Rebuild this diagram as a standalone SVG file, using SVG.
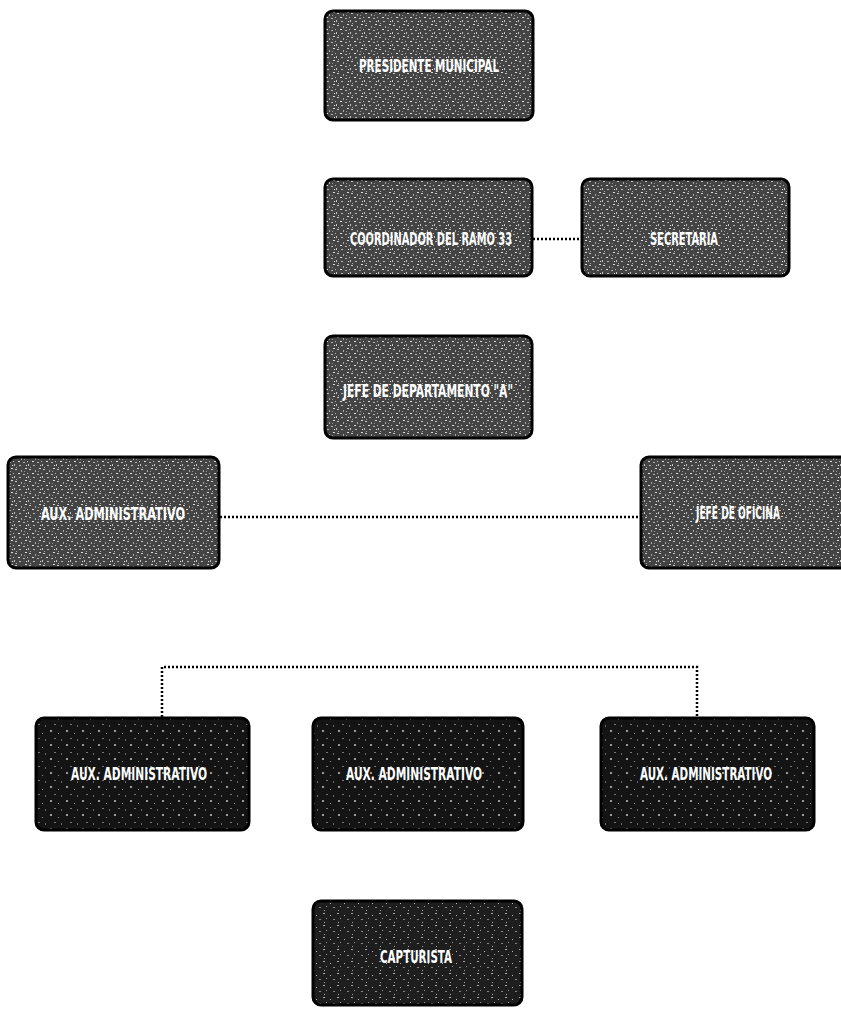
<svg xmlns="http://www.w3.org/2000/svg" width="841" height="1014" viewBox="0 0 841 1014">
  <defs>
    <!-- speckled fill for the upper boxes -->
    <pattern id="speckle" width="14" height="12" patternUnits="userSpaceOnUse">
      <rect width="14" height="12" fill="#444"/>
      <rect x="1" y="1" width="2" height="1" fill="#c8c8c8"/>
      <rect x="7" y="2" width="1" height="2" fill="#a8a8a8"/>
      <rect x="11" y="0" width="2" height="1" fill="#d8d8d8"/>
      <rect x="4" y="5" width="2" height="1" fill="#e0e0e0"/>
      <rect x="9" y="6" width="2" height="1" fill="#b4b4b4"/>
      <rect x="0" y="8" width="1" height="2" fill="#c4c4c4"/>
      <rect x="5" y="9" width="2" height="1" fill="#bababa"/>
      <rect x="12" y="9" width="1" height="1" fill="#e6e6e6"/>
      <rect x="2" y="11" width="1" height="1" fill="#aaa"/>
      <rect x="10" y="3" width="1" height="1" fill="#999"/>
      <rect x="13" y="5" width="1" height="1" fill="#bbb"/>
    </pattern>
    <!-- darker fill with sparse dots for the lower boxes -->
    <pattern id="dark" width="16" height="14" patternUnits="userSpaceOnUse">
      <rect width="16" height="14" fill="#141414"/>
      <rect x="2" y="2" width="2" height="2" fill="#9a9a9a"/>
      <rect x="10" y="5" width="1" height="1" fill="#8a8a8a"/>
      <rect x="6" y="10" width="2" height="1" fill="#777"/>
      <rect x="13" y="11" width="1" height="2" fill="#6a6a6a"/>
    </pattern>
    <pattern id="mid" width="14" height="12" patternUnits="userSpaceOnUse">
      <rect width="14" height="12" fill="#1e1e1e"/>
      <rect x="1" y="1" width="2" height="1" fill="#aaa"/>
      <rect x="8" y="3" width="1" height="1" fill="#bbb"/>
      <rect x="4" y="6" width="1" height="1" fill="#999"/>
      <rect x="11" y="7" width="2" height="1" fill="#888"/>
      <rect x="2" y="10" width="1" height="1" fill="#aaa"/>
    </pattern>
  </defs>
  <style>
    .box { stroke: #000; stroke-width: 3; }
    .light { fill: url(#speckle); }
    .dk { fill: url(#dark); }
    .md { fill: url(#mid); }
    .lbl { fill: #fff; font-family: "Liberation Sans Narrow", "DejaVu Sans Condensed", "Liberation Sans", sans-serif; font-weight: bold; font-size: 18px; text-anchor: middle; dominant-baseline: middle; }
    .link { fill: none; stroke: #000; stroke-width: 2.5; stroke-dasharray: 2 2; }
  </style>

  <rect width="841" height="1014" fill="#fff"/>

  <g id="connectors">
    <line class="link" x1="533" y1="239" x2="582" y2="239"/>
    <line class="link" x1="220" y1="517" x2="641" y2="517"/>
    <polyline class="link" points="162,717 162,667 697,667 697,717"/>
  </g>

  <g id="presidente">
    <rect class="box light" x="325" y="11" width="208" height="109" rx="8"/>
    <text class="lbl" x="429" y="67" textLength="140" lengthAdjust="spacingAndGlyphs">PRESIDENTE MUNICIPAL</text>
  </g>
  <g id="coordinador">
    <rect class="box light" x="325" y="179" width="207" height="97" rx="8"/>
    <text class="lbl" x="431" y="240" textLength="162" lengthAdjust="spacingAndGlyphs">COORDINADOR DEL RAMO 33</text>
  </g>
  <g id="secretaria">
    <rect class="box light" x="582" y="179" width="207" height="97" rx="8"/>
    <text class="lbl" x="684" y="240" textLength="68" lengthAdjust="spacingAndGlyphs">SECRETARIA</text>
  </g>
  <g id="jefe-departamento">
    <rect class="box light" x="325" y="336" width="207" height="102" rx="8"/>
    <text class="lbl" x="428" y="392" textLength="170" lengthAdjust="spacingAndGlyphs">JEFE DE DEPARTAMENTO "A"</text>
  </g>
  <g id="aux-administrativo-1">
    <rect class="box light" x="8" y="457" width="211" height="111" rx="8"/>
    <text class="lbl" x="113" y="515" textLength="144" lengthAdjust="spacingAndGlyphs">AUX. ADMINISTRATIVO</text>
  </g>
  <g id="jefe-oficina">
    <rect class="box light" x="641" y="457" width="210" height="111" rx="8"/>
    <text class="lbl" x="738" y="514" textLength="84" lengthAdjust="spacingAndGlyphs">JEFE DE OFICINA</text>
  </g>
  <g id="aux-administrativo-2">
    <rect class="box dk" x="36" y="718" width="213" height="112" rx="8"/>
    <text class="lbl" x="139" y="775" textLength="136" lengthAdjust="spacingAndGlyphs">AUX. ADMINISTRATIVO</text>
  </g>
  <g id="aux-administrativo-3">
    <rect class="box dk" x="313" y="718" width="210" height="112" rx="8"/>
    <text class="lbl" x="414" y="775" textLength="136" lengthAdjust="spacingAndGlyphs">AUX. ADMINISTRATIVO</text>
  </g>
  <g id="aux-administrativo-4">
    <rect class="box dk" x="601" y="718" width="213" height="112" rx="8"/>
    <text class="lbl" x="706" y="775" textLength="132" lengthAdjust="spacingAndGlyphs">AUX. ADMINISTRATIVO</text>
  </g>
  <g id="capturista">
    <rect class="box md" x="313" y="901" width="209" height="104" rx="8"/>
    <text class="lbl" x="416" y="958" textLength="72" lengthAdjust="spacingAndGlyphs">CAPTURISTA</text>
  </g>
</svg>
